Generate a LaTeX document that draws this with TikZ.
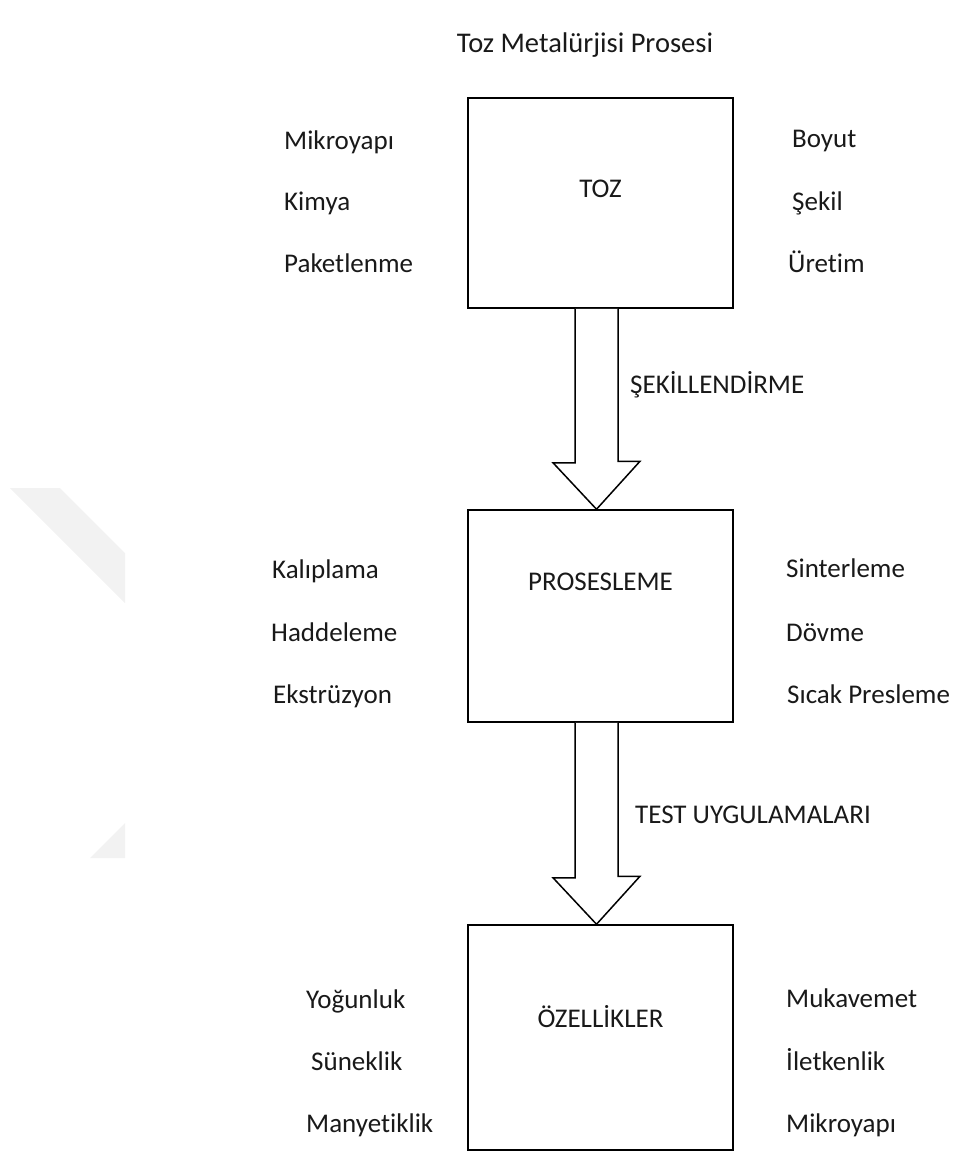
\documentclass[tikz,border=0pt]{standalone}
\usepackage{fontspec}
\setmainfont{Carlito}[Ligatures=NoCommon]
\usepackage{xcolor}
\usetikzlibrary{positioning}
\definecolor{watermark}{RGB}{242,242,242}
\definecolor{ink}{RGB}{25,25,25}
\tikzstyle{stage}=[draw, line width=1.5pt, minimum width=265pt, inner sep=0pt]
\tikzset{flow/.style={draw, line width=1.5pt, fill=white, line join=miter}}
\tikzstyle{item}=[anchor=base west, inner sep=0pt, text=ink]
\tikzstyle{heading}=[anchor=base, inner sep=0pt, text=ink]

\begin{document}
\begin{tikzpicture}[x=1pt, y=-1pt, font=\fontsize{27}{32}\selectfont]
  \useasboundingbox (0,0) rectangle (965,1151);

  %% faint background marks
  \fill[watermark] (10,488) -- (60,488) -- (125,553) -- (125,603) -- cycle;
  \fill[watermark] (125,823) -- (125,858) -- (90,858) -- cycle;

  \node[heading, font=\fontsize{28.5}{32}\selectfont] (title) at (585,52) {Toz Metalürjisi Prosesi};

  %% stages
  \node[stage, minimum height=210pt] (toz) at (600.5,203) {};
  \node[stage, minimum height=212pt] (proses) at (600.5,616) {};
  \node[stage, minimum height=225pt] (ozel) at (600.5,1037.5) {};

  \node[heading] (toztext) at (600.5,197) {TOZ};
  \node[heading] (prosestext) at (600.5,590) {PROSESLEME};
  \node[heading] (ozeltext) at (600.5,1027) {ÖZELLİKLER};

  %% block arrows
  \draw[flow] ([xshift=-25.5pt]toz.south) -- ++(0,154) -- ++(-22,0)
    -- ([xshift=-4pt]proses.north) -- ++(43.5,-48) -- ++(-22,0)
    -- ([xshift=17.5pt]toz.south);
  \draw[flow] ([xshift=-25.5pt]proses.south) -- ++(0,155) -- ++(-22,0)
    -- ([xshift=-4pt]ozel.north) -- ++(43.5,-48) -- ++(-22,0)
    -- ([xshift=17.5pt]proses.south);

  \node[item] (sekil1) at (630,393) {ŞEKİLLENDİRME};
  \node[item] (test) at (635,823) {TEST UYGULAMALARI};

  %% TOZ
  \node[item] (mikro1) at (284,149) {Mikroyapı};
  \node[item] (kimya) at (284,210) {Kimya};
  \node[item] (paket) at (284,272) {Paketlenme};
  \node[item] (boyut) at (792,147) {Boyut};
  \node[item] (sekil) at (792,210) {Şekil};
  \node[item] (uretim) at (788,272) {Üretim};

  %% PROSESLEME
  \node[item] (kalip) at (272,578) {Kalıplama};
  \node[item] (hadde) at (271,641) {Haddeleme};
  \node[item] (ekstr) at (273,703) {Ekstrüzyon};
  \node[item] (sinter) at (786,577) {Sinterleme};
  \node[item] (dovme) at (786,641) {Dövme};
  \node[item] (sicak) at (787,703) {Sıcak Presleme};

  %% ÖZELLİKLER
  \node[item] (yogun) at (306,1008) {Yoğunluk};
  \node[item] (sunek) at (311,1070) {Süneklik};
  \node[item] (manye) at (306,1132) {Manyetiklik};
  \node[item] (mukav) at (786,1007) {Mukavemet};
  \node[item] (ilet) at (786,1070) {İletkenlik};
  \node[item] (mikro2) at (786,1132) {Mikroyapı};
\end{tikzpicture}
\end{document}
